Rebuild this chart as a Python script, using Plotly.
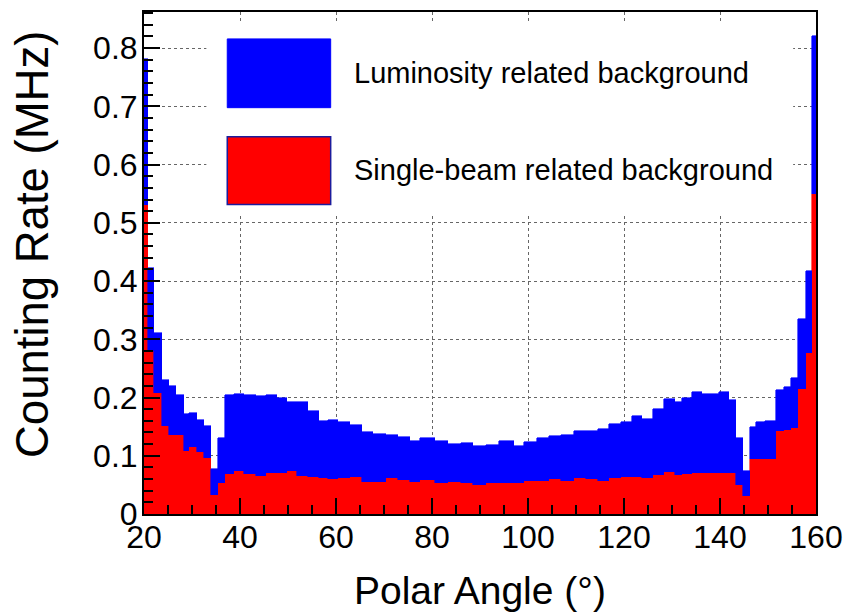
import numpy as np
import plotly.graph_objects as go

# Polar-angle bin edges (degrees); bins are narrower in the endcaps
bin_edges = [20.0, 20.83, 22.01, 23.77, 25.18, 26.71, 28.27, 29.47, 31.02, 32.58,
             33.92, 35.37, 36.97, 38.79, 40.86, 43.29, 45.42, 47.76, 49.83, 51.90,
             54.18, 56.40, 58.33, 60.40, 62.97, 65.37, 67.79, 70.42, 72.97, 75.40,
             77.59, 80.58, 83.33, 86.09, 88.51, 91.27, 94.04, 97.00, 99.22, 101.83,
             104.40, 106.80, 109.58, 112.13, 114.61, 116.95, 119.44, 121.66, 123.73, 126.01,
             128.23, 130.63, 132.02, 134.09, 136.16, 138.23, 139.83, 141.90, 143.41, 144.80,
             146.17, 147.55, 149.27, 151.70, 153.42, 154.81, 156.19, 157.91, 159.26, 160.0]

# Counting rate per bin (MHz)
single_beam = [0.531, 0.280, 0.207, 0.151, 0.135, 0.135, 0.109, 0.115, 0.107, 0.097,
               0.032, 0.053, 0.068, 0.074, 0.069, 0.066, 0.071, 0.070, 0.074, 0.066,
               0.064, 0.062, 0.060, 0.062, 0.064, 0.055, 0.055, 0.061, 0.059, 0.055,
               0.058, 0.054, 0.055, 0.054, 0.049, 0.054, 0.053, 0.054, 0.056, 0.056,
               0.060, 0.057, 0.061, 0.060, 0.056, 0.062, 0.063, 0.063, 0.062, 0.067,
               0.072, 0.067, 0.069, 0.071, 0.071, 0.071, 0.071, 0.071, 0.049, 0.031,
               0.094, 0.094, 0.094, 0.142, 0.145, 0.148, 0.214, 0.277, 0.549]

luminosity = [0.250, 0.143, 0.104, 0.079, 0.084, 0.070, 0.062, 0.058, 0.055, 0.054,
              0.045, 0.078, 0.137, 0.132, 0.136, 0.137, 0.134, 0.129, 0.119, 0.126,
              0.113, 0.098, 0.102, 0.096, 0.088, 0.086, 0.083, 0.074, 0.074, 0.070,
              0.073, 0.072, 0.065, 0.068, 0.067, 0.064, 0.072, 0.063, 0.068, 0.074,
              0.074, 0.078, 0.082, 0.083, 0.090, 0.093, 0.095, 0.105, 0.102, 0.113,
              0.125, 0.126, 0.130, 0.139, 0.135, 0.135, 0.138, 0.125, 0.082, 0.043,
              0.055, 0.064, 0.065, 0.071, 0.073, 0.085, 0.121, 0.140, 0.272]

legend_labels = ["Luminosity related background", "Single-beam related background"]

edges = np.array(bin_edges)
centers = 0.5 * (edges[:-1] + edges[1:])
widths = np.diff(edges)

FONT = "Liberation Sans, Arial, Helvetica, sans-serif"
BLUE = "#0000FF"
RED = "#FF0000"

fig = go.Figure()
fig.add_trace(go.Bar(x=centers, y=single_beam, width=widths, name=legend_labels[1],
                     marker=dict(color=RED, line=dict(color=RED, width=0.6))))
fig.add_trace(go.Bar(x=centers, y=luminosity, width=widths, name=legend_labels[0],
                     marker=dict(color=BLUE, line=dict(color=BLUE, width=0.6))))

total_max = max(s + l for s, l in zip(single_beam, luminosity))

fig.update_layout(
    barmode="stack",
    bargap=0,
    width=853, height=615,
    margin=dict(l=144, r=33, t=10, b=101),
    paper_bgcolor="white",
    plot_bgcolor="white",
    showlegend=False,
    font=dict(family=FONT, color="black"),
)

fig.update_xaxes(
    range=[20, 160],
    tick0=20, dtick=20,
    ticks="inside", ticklen=16, tickwidth=2, tickcolor="black",
    minor=dict(dtick=5, ticks="inside", ticklen=9, tickwidth=1.5, tickcolor="black", showgrid=False),
    showline=True, linecolor="black", linewidth=2, mirror=True,
    showgrid=True, gridcolor="#666666", griddash="dot", gridwidth=1,
    zeroline=False,
    tickfont=dict(size=32, family=FONT, color="black"),
    ticklabelstandoff=-6,
)
fig.update_yaxes(
    range=[0, total_max * 1.05],
    tick0=0, dtick=0.1,
    ticks="inside", ticklen=16, tickwidth=2, tickcolor="black",
    minor=dict(dtick=0.02, ticks="inside", ticklen=9, tickwidth=1.5, tickcolor="black", showgrid=False),
    showline=True, linecolor="black", linewidth=2, mirror=True,
    showgrid=True, gridcolor="#666666", griddash="dot", gridwidth=1,
    zeroline=False,
    tickfont=dict(size=32, family=FONT, color="black"),
    ticklabelstandoff=-2,
)

# Legend panel
fig.add_shape(type="rect", xref="paper", yref="paper", x0=0.0928, x1=0.966, y0=0.599, y1=0.978,
              fillcolor="white", line=dict(width=0), layer="above")
fig.add_shape(type="rect", xref="paper", yref="paper", x0=0.1239, x1=0.2778, y0=0.8094, y1=0.9464,
              fillcolor=BLUE, line=dict(color=BLUE, width=1), layer="above")
fig.add_shape(type="rect", xref="paper", yref="paper", x0=0.1239, x1=0.2778, y0=0.6167, y1=0.7517,
              fillcolor=RED, line=dict(color="#1c1c9c", width=1.5), layer="above")
fig.add_annotation(x=0.3089, y=0.8789, xref="paper", yref="paper", text=legend_labels[0],
                   showarrow=False, xanchor="left", yanchor="middle",
                   font=dict(size=29, family=FONT, color="black"))
fig.add_annotation(x=0.3089, y=0.6862, xref="paper", yref="paper", text=legend_labels[1],
                   showarrow=False, xanchor="left", yanchor="middle",
                   font=dict(size=29, family=FONT, color="black"))

# Axis titles
fig.add_annotation(x=0.5, y=-0.153, xref="paper", yref="paper", text="Polar Angle (°)",
                   showarrow=False, xanchor="center", yanchor="middle",
                   font=dict(size=39, family=FONT, color="black"))
fig.add_annotation(x=-0.166, y=0.966, xref="paper", yref="paper", text="Counting Rate (MHz)",
                   showarrow=False, textangle=-90, xanchor="center", yanchor="top",
                   font=dict(size=45.5, family=FONT, color="black"))

fig.write_html("out.html")
